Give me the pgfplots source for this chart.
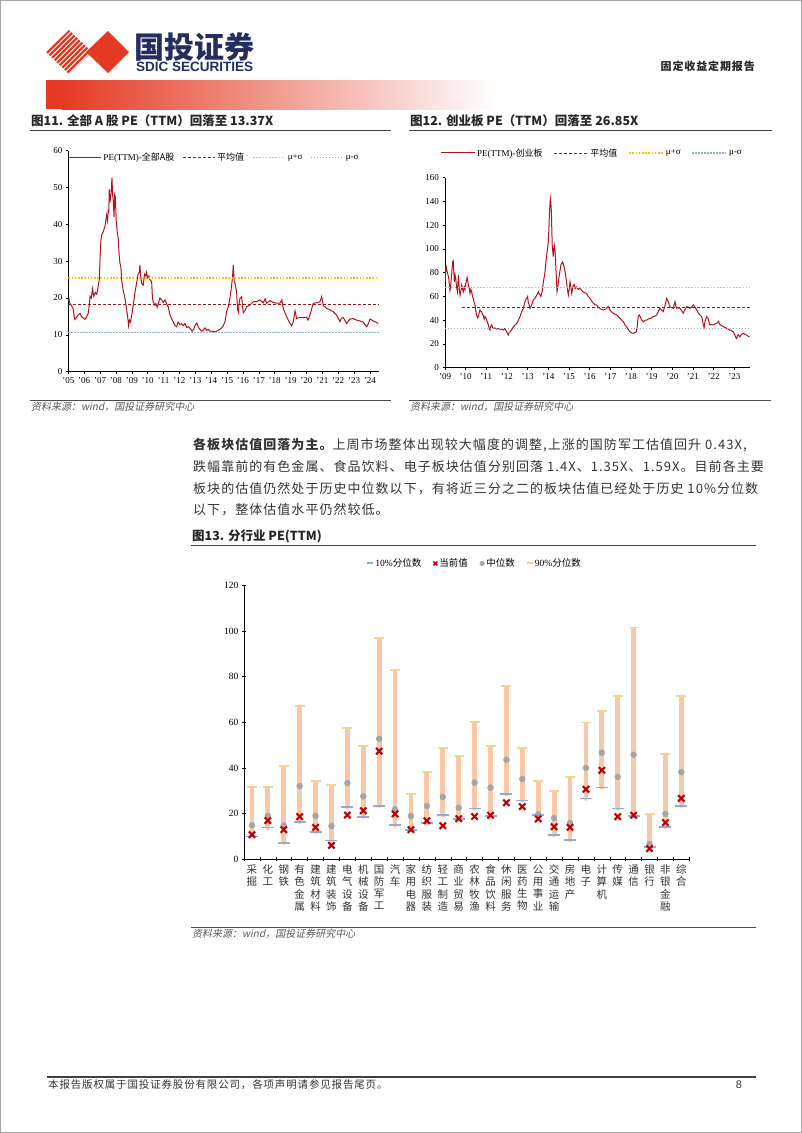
\documentclass[border=0pt]{standalone}
\usepackage{fontspec}
\usepackage{pgfplots}
\usepackage{pgfplotstable}
\pgfplotsset{compat=1.18}
\setmainfont{Liberation Serif}
\newfontfamily\cjk{Noto Sans CJK SC}
\newfontfamily\cjkp[LetterSpace=8]{Noto Sans CJK SC}
\newfontfamily\cjki[FakeSlant=0.2]{Noto Sans CJK SC}
\newfontfamily\arial{Liberation Sans}

\definecolor{sdicred}{RGB}{228,58,36}
\definecolor{navy}{RGB}{35,45,95}
\definecolor{peline}{RGB}{175,20,30}
\definecolor{meanc}{RGB}{140,25,30}
\definecolor{yel}{RGB}{255,192,0}
\definecolor{blu}{RGB}{143,170,220}
\definecolor{peach}{RGB}{248,200,168}
\definecolor{yel13}{RGB}{240,215,140}
\definecolor{red13}{RGB}{192,0,0}
\definecolor{gray13}{RGB}{165,165,165}

\pgfplotsset{
  pagestyle/.style={
    scale only axis, anchor=south west,
    axis x line*=bottom, axis y line*=left,
    axis line style={black, line width=0.7pt, -},
    every outer x axis line/.append style={-},
    every outer y axis line/.append style={-},
    tick style={black, line width=0.5pt},
    major tick length=2.5pt,
    /pgf/number format/assume math mode=true,
  }
}

% industry PE: 10% quantile, current, median, 90% quantile
\pgfplotstableread{
x    p10   cur   med   p90
1    10.0  10.8  14.9  31.8
2    13.9  17.0  19.0  31.8
3    7.3   13.0  14.9  40.9
4    16.4  18.7  32.1  67.3
5    12.0  14.0  19.0  34.3
6    8.2   6.1   14.6  32.6
7    22.9  19.4  33.4  57.7
8    18.7  21.3  27.6  49.8
9    23.5  47.4  52.8  96.9
10   14.9  19.9  21.9  82.8
11   13.0  13.0  19.0  28.5
12   16.0  16.9  23.4  38.2
13   19.3  14.7  27.3  48.8
14   17.5  17.8  22.6  45.3
15   22.3  18.8  33.6  60.3
16   19.0  19.3  31.4  49.8
17   28.6  24.8  43.6  75.9
18   25.8  23.1  35.2  48.8
19   19.4  17.7  19.7  34.3
20   10.8  14.3  18.0  29.8
21   8.5   14.0  15.9  35.9
22   26.6  30.7  40.1  59.9
23   31.5  39.0  46.7  65.1
24   22.3  18.7  36.1  71.4
25   19.0  19.3  45.8  101.6
26   5.3   4.7   6.7   20.0
27   14.3  16.1  19.9  46.0
28   23.4  26.7  38.2  71.4
}\industry

\begin{document}
\begin{tikzpicture}
\begin{scope}[x=1pt,y=-1pt]
\path[use as bounding box] (0,0) rectangle (802,1133);
\draw[gray!70, line width=1pt] (0.5,0.5) rectangle (801.5,1132.5);

% logo
\begin{scope}
  \clip (46,52) -- (69,30) -- (92,52) -- (69,74) -- cycle;
  \foreach \k in {0,...,14} {
    \draw[sdicred, line width=2.2pt] (20+\k*5,80) -- (70+\k*5,30);
  }
\end{scope}
\fill[sdicred] (86,52) -- (108,31) -- (129,52) -- (108,73) -- cycle;
\node[anchor=west, inner sep=0, text=navy] at (134,47.5)
  {\cjk\bfseries\fontsize{30}{30}\selectfont 国投证券};
\node[anchor=west, inner sep=0, text=navy] at (136,67)
  {\arial\bfseries\fontsize{13.5}{14}\selectfont SDIC SECURITIES};
\fill[sdicred] (46,80) rectangle (62,109);
\shade[left color=sdicred, right color=sdicred!45] (61.5,80) rectangle (300,109);
\shade[left color=sdicred!45, right color=white] (299.5,80) rectangle (496,109);
\node[anchor=east, inner sep=0, text=black!85] at (755,66)
  {\cjkp\bfseries\fontsize{11}{11}\selectfont 固定收益定期报告};

% figure titles
\node[anchor=west, inner sep=0, text=black!85] at (31,121)
  {\cjk\bfseries\fontsize{12.5}{13}\selectfont 图11. 全部 A 股 PE（TTM）回落至 13.37X};
\draw[black!75, line width=1pt] (30,130) -- (391,130);
\node[anchor=west, inner sep=0, text=black!85] at (410,121)
  {\cjk\bfseries\fontsize{12.5}{13}\selectfont 图12. 创业板 PE（TTM）回落至 26.85X};
\draw[black!75, line width=1pt] (409,130) -- (772,130);

% sources
\draw[black!70, line width=0.8pt] (30,400.5) -- (391,400.5);
\node[anchor=west, inner sep=0, text=black!65] at (31,407)
  {\cjki\fontsize{10}{10}\selectfont 资料来源：wind，国投证券研究中心};
\draw[black!70, line width=0.8pt] (409,400.5) -- (771,400.5);
\node[anchor=west, inner sep=0, text=black!65] at (410,407)
  {\cjki\fontsize{10}{10}\selectfont 资料来源：wind，国投证券研究中心};

% paragraph
\begin{scope}[every node/.style={anchor=west, inner sep=0, text=black!80,
    font=\cjkp\fontsize{13}{13}\selectfont}]
\node at (193,445) {{\bfseries 各板块估值回落为主。}上周市场整体出现较大幅度的调整,上涨的国防军工估值回升 0.43X,};
\node at (193,466.7) {跌幅靠前的有色金属、食品饮料、电子板块估值分别回落 1.4X、1.35X、1.59X。目前各主要};
\node at (193,489) {板块的估值仍然处于历史中位数以下，有将近三分之二的板块估值已经处于历史 10\%分位数};
\node at (193,509.3) {以下，整体估值水平仍然较低。};
\end{scope}

% figure 13 title and source
\node[anchor=west, inner sep=0, text=black!85] at (192,536)
  {\cjk\bfseries\fontsize{12.5}{13}\selectfont 图13. 分行业 PE(TTM)};
\draw[black!75, line width=1pt] (191,545.5) -- (756,545.5);
\draw[black!70, line width=0.8pt] (191,927) -- (756,927);
\node[anchor=west, inner sep=0, text=black!65] at (192,934)
  {\cjki\fontsize{10}{10}\selectfont 资料来源：wind，国投证券研究中心};

% footer
\draw[black!75, line width=1.5pt] (47,1077) -- (756,1077);
\node[anchor=west, inner sep=0, text=black!80] at (48,1085)
  {\cjkp\fontsize{10.5}{11}\selectfont 本报告版权属于国投证券股份有限公司，各项声明请参见报告尾页。};
\node[anchor=center, inner sep=0, text=black!80] at (739,1085)
  {\arial\fontsize{11}{11}\selectfont 8};
\end{scope}

% ---------- chart 11 ----------
\begin{axis}[pagestyle,
  at={(68.3pt,-371.7pt)}, width=310.7pt, height=221pt,
  xmin=2005, xmax=2024.57, ymin=0, ymax=60,
  xtick={2005,...,2024},
  xticklabels={'05,'06,'07,'08,'09,'10,'11,'12,'13,'14,'15,'16,'17,'18,'19,'20,'21,'22,'23,'24},
  ytick={0,10,...,60},
  tick align=outside,
  tick label style={font=\fontsize{9}{10}\selectfont},
  legend columns=4,
  legend style={at={(0,1)}, anchor=north west, draw=none, fill=none,
    font=\fontsize{9}{9}\selectfont, inner sep=0pt,
    /tikz/every even column/.append style={column sep=6pt}},
  legend image code/.code={\draw[#1] (0pt,0pt) -- (32pt,0pt);},
]
\addplot[peline, line width=1pt] coordinates {
(2005.00,19.0) (2005.05,19.6) (2005.10,18.5) (2005.20,18.0) (2005.31,17.0) (2005.37,15.0)
(2005.42,14.2) (2005.52,14.8) (2005.63,15.5) (2005.74,15.8) (2005.84,14.9) (2006.05,14.2)
(2006.15,14.8) (2006.26,16.0) (2006.32,18.0) (2006.37,20.5) (2006.45,20.0) (2006.52,22.5)
(2006.60,20.5) (2006.70,21.5) (2006.80,21.0) (2006.89,23.5) (2006.95,25.0) (2007.00,30.5)
(2007.05,35.5) (2007.10,37.0) (2007.20,38.0) (2007.31,39.5) (2007.41,42.5) (2007.47,41.0)
(2007.52,44.0) (2007.55,43.0) (2007.58,49.5) (2007.62,46.0) (2007.67,47.5) (2007.72,50.0)
(2007.75,52.7) (2007.79,48.0) (2007.83,46.5) (2007.88,42.0) (2007.92,48.0) (2007.96,47.5)
(2008.02,41.0) (2008.08,38.0) (2008.15,36.0) (2008.20,32.0) (2008.25,29.5) (2008.31,28.5)
(2008.36,25.0) (2008.46,22.0) (2008.57,20.0) (2008.67,17.0) (2008.75,14.5) (2008.80,12.5)
(2008.85,14.0) (2008.92,13.5) (2009.00,15.5) (2009.09,18.0) (2009.20,21.5) (2009.30,24.0)
(2009.40,26.5) (2009.47,27.0) (2009.51,29.0) (2009.56,26.0) (2009.62,24.0) (2009.72,23.5)
(2009.80,26.5) (2009.88,26.0) (2009.93,27.0) (2010.00,25.5) (2010.08,26.0) (2010.14,25.0)
(2010.25,24.5) (2010.30,20.0) (2010.35,19.0) (2010.46,18.0) (2010.52,18.5) (2010.60,17.5)
(2010.67,18.5) (2010.77,20.0) (2010.88,19.5) (2010.98,18.8) (2011.09,19.5) (2011.19,18.5)
(2011.30,17.5) (2011.40,15.5) (2011.50,14.5) (2011.61,13.5) (2011.72,12.5) (2011.82,12.2)
(2011.92,13.5) (2012.03,12.8) (2012.14,13.0) (2012.24,12.5) (2012.35,13.1) (2012.45,12.0)
(2012.56,12.2) (2012.66,11.8) (2012.80,11.0) (2012.90,11.5) (2013.00,12.7) (2013.10,13.2)
(2013.20,12.0) (2013.29,11.5) (2013.40,11.0) (2013.50,11.3) (2013.62,11.9) (2013.71,11.2)
(2013.82,11.5) (2013.92,11.0) (2014.03,11.0) (2014.13,10.9) (2014.24,10.8) (2014.34,11.0)
(2014.45,11.2) (2014.55,11.5) (2014.66,11.9) (2014.76,12.5) (2014.87,13.6) (2014.97,16.3)
(2015.08,17.6) (2015.18,19.9) (2015.29,23.5) (2015.35,26.0) (2015.39,28.9) (2015.45,24.4)
(2015.50,24.0) (2015.60,21.7) (2015.66,17.0) (2015.71,16.2) (2015.76,18.5) (2015.81,19.9)
(2015.92,20.4) (2015.97,18.0) (2016.02,16.0) (2016.13,16.6) (2016.23,17.6) (2016.44,18.1)
(2016.65,19.0) (2016.86,19.0) (2017.07,19.5) (2017.28,18.7) (2017.40,19.8) (2017.49,18.6)
(2017.70,19.3) (2017.91,18.8) (2018.12,18.6) (2018.33,18.6) (2018.45,19.5) (2018.54,17.2)
(2018.65,16.0) (2018.75,14.9) (2018.96,13.1) (2019.07,12.5) (2019.17,13.5) (2019.28,16.5)
(2019.38,14.5) (2019.59,14.7) (2019.80,14.7) (2020.01,14.8) (2020.10,14.0) (2020.22,15.4)
(2020.43,18.6) (2020.64,18.7) (2020.85,19.0) (2020.96,20.4) (2021.06,18.0) (2021.27,17.2)
(2021.48,16.8) (2021.69,16.3) (2021.90,15.4) (2022.11,13.6) (2022.20,14.5) (2022.32,14.7)
(2022.53,13.1) (2022.74,14.3) (2022.95,14.4) (2023.16,14.0) (2023.37,13.8) (2023.58,13.4)
(2023.79,12.2) (2023.90,13.0) (2024.00,14.3) (2024.21,13.8) (2024.53,13.1)
};
\addlegendentry{PE(TTM)-{\cjk 全部A股}}
\addplot[meanc, line width=0.7pt, dash pattern=on 3pt off 2pt] coordinates {(2005,18.2) (2024.57,18.2)};
\addlegendentry{{\cjk 平均值}}
\addplot[yel, line width=1.6pt, dash pattern=on 1.6pt off 1.6pt] coordinates {(2005,25.5) (2024.57,25.5)};
\addlegendentry{μ+σ}
\addplot[blu, line width=1.3pt, dash pattern=on 1.3pt off 1.7pt] coordinates {(2005,10.7) (2024.57,10.7)};
\addlegendentry{μ-σ}
\end{axis}

% ---------- chart 12 ----------
\begin{axis}[pagestyle,
  at={(445pt,-367.7pt)}, width=305pt, height=190pt,
  xmin=2009, xmax=2023.76, ymin=0, ymax=160,
  xtick={2009,...,2023},
  xticklabels={'09,'10,'11,'12,'13,'14,'15,'16,'17,'18,'19,'20,'21,'22,'23},
  ytick={0,20,...,160},
  tick align=outside,
  tick label style={font=\fontsize{9}{10}\selectfont},
  legend columns=4,
  legend style={at={(0,1)}, anchor=south west, xshift=-5pt, yshift=18pt,
    draw=none, fill=none, font=\fontsize{9}{9}\selectfont, inner sep=0pt,
    /tikz/every even column/.append style={column sep=9pt}},
  legend image code/.code={\draw[#1] (0pt,0pt) -- (34pt,0pt);},
]
\addplot[peline, line width=1pt] coordinates {
(2009.00,72) (2009.03,80) (2009.05,86.5) (2009.08,82) (2009.11,80.8) (2009.15,78) (2009.18,75)
(2009.21,70) (2009.24,65) (2009.27,68) (2009.32,78) (2009.37,89) (2009.40,90) (2009.43,80)
(2009.45,72.4) (2009.49,78) (2009.52,75) (2009.56,68) (2009.60,64) (2009.65,78) (2009.69,66)
(2009.73,61) (2009.77,65) (2009.81,69.6) (2009.85,66) (2009.89,64) (2009.93,68) (2009.97,66)
(2010.02,72) (2010.07,76) (2010.10,73) (2010.13,69.6) (2010.18,66) (2010.21,62.6) (2010.25,66)
(2010.29,64) (2010.33,60) (2010.37,58.4) (2010.41,55) (2010.45,52.8) (2010.49,48) (2010.53,44.4)
(2010.57,42) (2010.61,43) (2010.65,46) (2010.69,48.6) (2010.73,47.5) (2010.77,47.2) (2010.81,45)
(2010.85,44.4) (2010.90,41) (2010.94,43) (2010.98,41.5) (2011.02,40) (2011.06,38) (2011.10,36)
(2011.14,33) (2011.18,31.7) (2011.22,35) (2011.26,36) (2011.30,34) (2011.34,33) (2011.42,33.5)
(2011.50,32.5) (2011.58,33) (2011.66,32.6) (2011.74,32.0) (2011.82,31.7) (2011.90,33) (2011.98,30.3)
(2012.02,29) (2012.06,27.5) (2012.10,29.5) (2012.15,30.3) (2012.23,32) (2012.31,34.5) (2012.39,36)
(2012.47,37.3) (2012.55,40) (2012.63,43) (2012.71,47) (2012.79,50) (2012.87,55.6) (2012.95,58.4)
(2013.00,60) (2013.03,55) (2013.07,52.8) (2013.11,50) (2013.15,51) (2013.19,52.8) (2013.27,57)
(2013.35,58.4) (2013.44,61.2) (2013.52,64) (2013.56,62) (2013.60,61.2) (2013.64,60) (2013.68,62.6)
(2013.72,66) (2013.76,72.4) (2013.80,76) (2013.84,80.8) (2013.88,88) (2013.92,94.9) (2013.96,100)
(2014.00,106) (2014.03,118) (2014.05,128.6) (2014.08,138) (2014.10,142.6) (2014.12,140) (2014.15,131)
(2014.17,115) (2014.19,103) (2014.22,97) (2014.24,93.5) (2014.27,100) (2014.29,103) (2014.32,99)
(2014.34,94.9) (2014.37,82) (2014.40,72.4) (2014.42,64) (2014.45,66.8) (2014.49,72) (2014.53,78)
(2014.57,82) (2014.61,86.5) (2014.65,88) (2014.69,89) (2014.73,87) (2014.76,85) (2014.80,82)
(2014.84,78) (2014.88,72) (2014.92,66.8) (2014.95,63) (2014.97,61.2) (2015.01,66) (2015.05,72.4)
(2015.09,68) (2015.13,62.6) (2015.17,66) (2015.21,69.6) (2015.25,70) (2015.29,66.8) (2015.33,67)
(2015.37,68) (2015.45,66) (2015.53,66.8) (2015.61,65) (2015.69,64) (2015.77,63) (2015.85,62.6)
(2015.93,60) (2016.02,58.4) (2016.10,56) (2016.18,54.2) (2016.26,53) (2016.34,52.8) (2016.42,51)
(2016.50,50) (2016.58,49) (2016.66,48.6) (2016.74,49) (2016.82,50) (2016.90,51.5) (2016.98,48.6)
(2017.06,47) (2017.15,45.8) (2017.23,45) (2017.31,44.4) (2017.39,43) (2017.47,41.5) (2017.55,40)
(2017.63,38.7) (2017.71,36) (2017.79,34.5) (2017.87,32) (2017.95,30.3) (2018.03,29.5) (2018.11,28.9)
(2018.19,29.5) (2018.27,30.3) (2018.31,36) (2018.35,43) (2018.40,44.4) (2018.44,43) (2018.52,40)
(2018.60,38.7) (2018.68,40) (2018.76,40) (2018.84,41) (2018.92,41.5) (2019.00,42) (2019.08,43)
(2019.16,43.5) (2019.24,44.4) (2019.32,47.2) (2019.40,50) (2019.48,48.5) (2019.56,47.2) (2019.64,52)
(2019.73,58.4) (2019.77,57) (2019.81,55.6) (2019.85,53) (2019.89,51.4) (2019.97,50.5) (2020.05,50)
(2020.09,53) (2020.13,55.6) (2020.17,52) (2020.21,50) (2020.29,50.5) (2020.37,50) (2020.45,48)
(2020.53,45.8) (2020.61,49) (2020.69,51.4) (2020.77,51) (2020.85,50) (2020.93,51) (2021.02,52.8)
(2021.10,51) (2021.18,48.6) (2021.26,46) (2021.34,44.4) (2021.42,43) (2021.46,40) (2021.50,36)
(2021.54,34) (2021.58,38.7) (2021.62,41) (2021.66,43) (2021.70,42) (2021.74,41.5) (2021.78,38)
(2021.82,36) (2021.90,36.5) (2021.98,36) (2022.07,37) (2022.15,37.3) (2022.23,39) (2022.31,36)
(2022.39,35.5) (2022.47,34.5) (2022.55,34) (2022.63,33) (2022.71,32.5) (2022.79,31.7) (2022.87,31)
(2022.95,30.3) (2023.03,27.5) (2023.07,25.5) (2023.11,24.7) (2023.15,26.5) (2023.19,28) (2023.23,27)
(2023.27,26) (2023.35,28) (2023.44,28.9) (2023.52,28) (2023.60,27.5) (2023.67,26.5) (2023.73,26)
};
\addlegendentry{PE(TTM)-{\cjk 创业板}}
\addplot[meanc, line width=0.7pt, dash pattern=on 3pt off 2pt] coordinates {(2009.84,50.5) (2023.76,50.5)};
\addlegendentry{{\cjk 平均值}}
\addplot[yel, line width=1.6pt, dash pattern=on 1.6pt off 1.6pt] coordinates {(2009,67.6) (2023.76,67.6)};
\addlegendentry{μ+σ}
\addplot[blu, line width=1.3pt, dash pattern=on 1.3pt off 1.7pt] coordinates {(2009,33) (2023.76,33)};
\addlegendentry{μ-σ}
\end{axis}

% ---------- chart 13 ----------
\begin{axis}[pagestyle,
  at={(244pt,-859.3pt)}, width=445.3pt, height=273.9pt,
  xmin=0.5, xmax=28.5, ymin=0, ymax=120,
  xtick={0.5,1.5,...,27.5},
  xticklabels={{采\\掘},{化\\工},{钢\\铁},{有\\色\\金\\属},{建\\筑\\材\\料},{建\\筑\\装\\饰},
    {电\\气\\设\\备},{机\\械\\设\\备},{国\\防\\军\\工},{汽\\车},{家\\用\\电\\器},{纺\\织\\服\\装},
    {轻\\工\\制\\造},{商\\业\\贸\\易},{农\\林\\牧\\渔},{食\\品\\饮\\料},{休\\闲\\服\\务},{医\\药\\生\\物},
    {公\\用\\事\\业},{交\\通\\运\\输},{房\\地\\产},{电\\子},{计\\算\\机},{传\\媒},{通\\信},{银\\行},
    {非\\银\\金\\融},{综\\合}},
  xticklabel style={xshift=7.95pt, align=center, text=black!80,
    font=\cjk\fontsize{10.5}{12.2}\selectfont},
  extra x ticks={28.5}, extra x tick labels={},
  ytick={0,20,...,120},
  yticklabel style={font=\fontsize{9.5}{10}\selectfont},
  tick align=center, major tick length=4pt,
  legend columns=4,
  legend style={at={(0.519,1.08)}, anchor=center, draw=none, fill=none,
    font=\fontsize{9.5}{10}\selectfont, inner sep=0pt,
    /tikz/every even column/.append style={column sep=10pt}},
]
\addlegendimage{only marks, mark=-, mark size=3pt, mark options={line width=2pt, draw=blu}}
\addlegendentry{10\%{\cjk 分位数}}
\addlegendimage{only marks, mark=x, mark size=2.8pt, mark options={line width=1.5pt, draw=red13}}
\addlegendentry{{\cjk 当前值}}
\addlegendimage{only marks, mark=*, mark size=2.3pt, mark options={fill=gray13, draw=gray13}}
\addlegendentry{{\cjk 中位数}}
\addlegendimage{only marks, mark=-, mark size=3pt, mark options={line width=2pt, draw=yel13}}
\addlegendentry{90\%{\cjk 分位数}}

\addplot[peach, only marks, mark=none, forget plot,
  error bars/.cd, y dir=plus, y explicit, error mark=none,
  error bar style={line width=4.8pt, draw=peach}]
  table[x=x, y=p10, y error expr=\thisrow{p90}-\thisrow{p10}] {\industry};
\addplot[only marks, mark=-, mark size=6pt, mark options={line width=1.8pt, draw=blu}, forget plot]
  table[x=x, y=p10] {\industry};
\addplot[only marks, mark=-, mark size=5pt, mark options={line width=1.8pt, draw=yel13}, forget plot]
  table[x=x, y=p90] {\industry};
\addplot[only marks, mark=*, mark size=3pt, mark options={fill=gray13, draw=gray13}, forget plot]
  table[x=x, y=med] {\industry};
\addplot[only marks, mark=x, mark size=4.5pt, mark options={line width=2.1pt, draw=red13}, forget plot]
  table[x=x, y=cur] {\industry};
\end{axis}
\end{tikzpicture}
\end{document}
